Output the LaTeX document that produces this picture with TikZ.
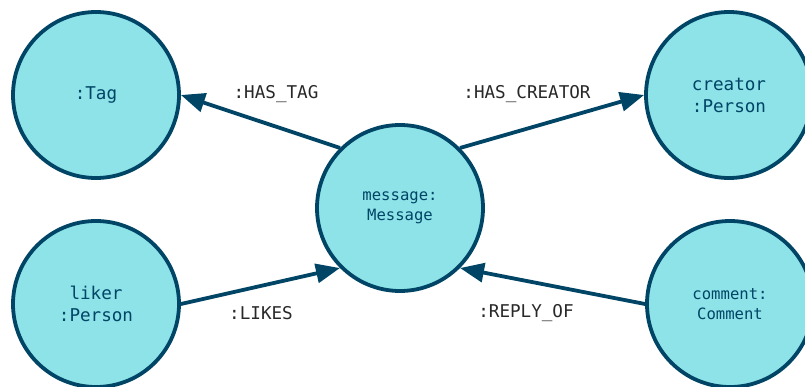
\documentclass[tikz,border=0pt]{standalone}
\usepackage{fontspec}
\setmonofont{DejaVu Sans Mono}
\usetikzlibrary{arrows.meta}
\definecolor{nodefill}{RGB}{141,227,232}
\definecolor{nodeline}{RGB}{0,68,102}
\definecolor{labeltext}{RGB}{40,40,40}
\tikzset{
  entity/.style={circle, draw=nodeline, fill=nodefill, line width=3.8pt,
    minimum size=166pt, inner sep=0pt, text=nodeline, align=center,
    font=\ttfamily\fontsize{17.6}{22}\selectfont},
  smallentity/.style={entity, font=\ttfamily\fontsize{15.6}{20}\selectfont},
  rel/.style={draw=nodeline, line width=3.8pt,
    -{Triangle[length=24pt,width=19pt]}},
  rellabel/.style={text=labeltext, inner sep=0pt,
    font=\ttfamily\fontsize{17.6}{21}\selectfont}
}
\begin{document}
\begin{tikzpicture}[x=1pt,y=-1pt]
  \useasboundingbox (0,0) rectangle (805,387);
  % entities
  \node[entity] (tag) at (96,95) {:Tag};
  \node[entity] (creator) at (729,95) {creator\\:Person};
  \node[smallentity] (msg) at (400,208) {message:\\Message};
  \node[entity] (liker) at (96,304) {liker\\:Person};
  \node[smallentity] (comment) at (730,304) {comment:\\Comment};
  % relationships
  \draw[rel] (msg.135) -- (tag.0);
  \draw[rel] (msg.45) -- (creator.180);
  \draw[rel] (liker.0) -- (msg.225);
  \draw[rel] (comment.180) -- (msg.315);
  % relationship labels
  \node[rellabel] (lhastag) at (276,94) {:HAS\_TAG};
  \node[rellabel] (lhascreator) at (527,94) {:HAS\_CREATOR};
  \node[rellabel] (llikes) at (261,313) {:LIKES};
  \node[rellabel] (lreplyof) at (526,313) {:REPLY\_OF};
\end{tikzpicture}
\end{document}
